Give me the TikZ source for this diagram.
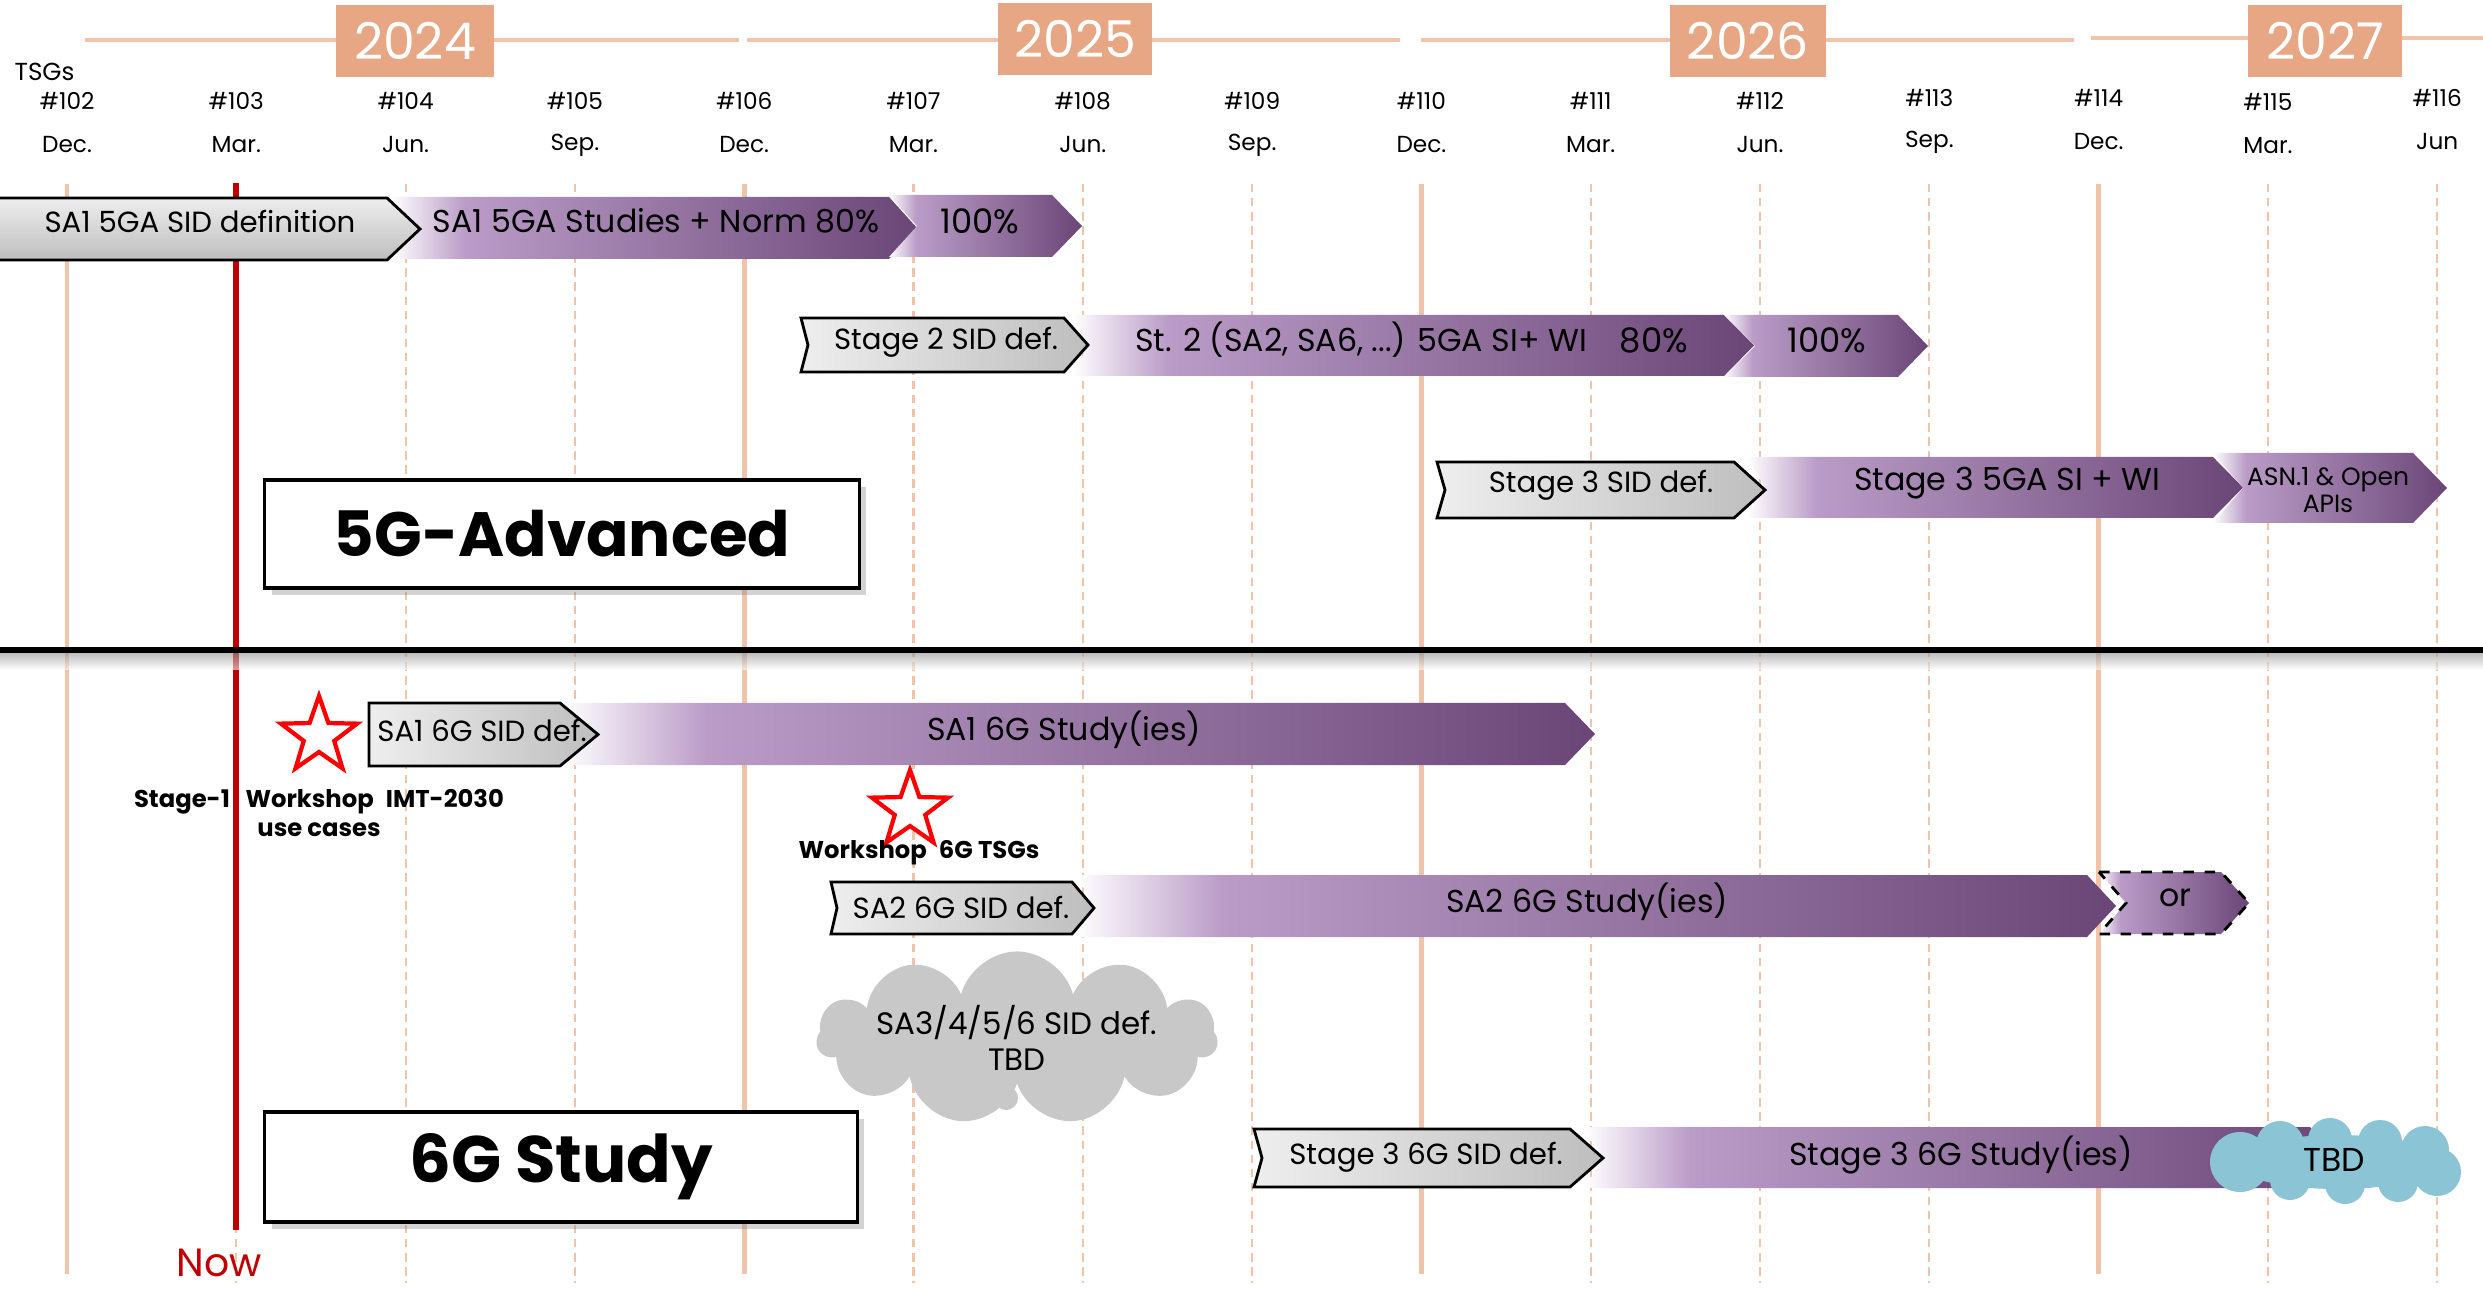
\documentclass[tikz,border=0pt]{standalone}
\usepackage{fontspec}
\setmainfont{Poppins}
\usetikzlibrary{shapes.geometric,shapes.symbols,shadows}

\definecolor{peach}{HTML}{E8A784}
\definecolor{peachline}{HTML}{EFC4AB}
\definecolor{nowred}{HTML}{C00000}
\definecolor{lilac}{HTML}{BA9CC7}
\definecolor{plum}{HTML}{6A4677}
\definecolor{greyA}{HTML}{EEEEEE}
\definecolor{greyB}{HTML}{BEBEBE}
\definecolor{cloudgrey}{HTML}{C8C8C8}
\definecolor{cloudblue}{HTML}{8BC5D5}

\pgfdeclarehorizontalshading{lilacfade}{100bp}{color(0bp)=(white); color(25bp)=(white); color(32bp)=(lilac); color(75bp)=(plum); color(100bp)=(plum)}

\tikzset{
  gridsolid/.style={peachline, line width=1.4pt},
  griddash/.style={peachline, line width=0.6pt, dash pattern=on 2.4pt off 1.6pt},
  yearbox/.style={fill=peach, text=white, inner sep=0pt, font=\fontsize{14.4}{17}\selectfont},
  tsglbl/.style={inner sep=0pt, font=\fontsize{6.6}{8}\selectfont},
  sidbox/.style={draw=black, line width=0.8pt, left color=greyA, right color=greyB},
  sidboxv/.style={draw=black, line width=0.8pt, top color=greyA, bottom color=greyB},
  studybar/.style={shading=lilacfade},
  bartxt/.style={inner sep=0pt, font=\fontsize{9}{10.8}\selectfont},
  pcttxt/.style={inner sep=0pt, font=\fontsize{9.6}{11.5}\selectfont},
  sidtxt/.style={inner sep=0pt, font=\fontsize{8.3}{10}\selectfont},
  wslbl/.style={inner sep=0pt, align=center, font=\bfseries\fontsize{6.9}{8.3}\selectfont},
  starmark/.style={star, star points=5, star point ratio=2.5, minimum size=0.8cm, inner sep=0pt, draw=red, line width=1.2pt, fill=white},
  titlebox/.style={draw, line width=0.9pt, fill=white, inner sep=0pt, drop shadow={shadow xshift=2pt, shadow yshift=-2pt, opacity=0.35}}
}

% chevron: [style]{x left}{x corner}{y top}{y bottom}{notch}{tip}
\newcommand{\chev}[7][]{%
  \path[#1] (#2,#4) -- (#3,#4) -- ({#3+#7},{(#4+#5)/2}) -- (#3,#5) -- (#2,#5) -- ({#2+#6},{(#4+#5)/2}) -- cycle;}

\begin{document}
\begin{tikzpicture}[x=0.01cm, y=-0.01cm, line join=miter]
\useasboundingbox (0,0) rectangle (2483,1289);

% years
\draw[peachline, line width=0.9pt] (85,40) -- (739,40) (747,40) -- (1400,40) (1421,40) -- (2074,40) (2091,38) -- (2483,38);
\node[yearbox, minimum width=1.58cm, minimum height=0.72cm] (y2024) at (415,41) {2024};
\node[yearbox, minimum width=1.54cm, minimum height=0.72cm] (y2025) at (1075,39) {2025};
\node[yearbox, minimum width=1.56cm, minimum height=0.72cm] (y2026) at (1748,41) {2026};
\node[yearbox, minimum width=1.54cm, minimum height=0.72cm] (y2027) at (2325,41) {2027};
\node[tsglbl, anchor=west, font=\fontsize{7}{8}\selectfont] (tsgs) at (14,72) {TSGs};

% meetings
\foreach \k/\n/\m/\dy in {0/102/Dec./0, 1/103/Mar./0, 2/104/Jun./0, 3/105/Sep./0, 4/106/Dec./0, 5/107/Mar./0, 6/108/Jun./0, 7/109/Sep./0, 8/110/Dec./0, 9/111/Mar./0, 10/112/Jun./0, 11/113/Sep./-3, 12/114/Dec./-3, 13/115/Mar./1, 14/116/Jun/-3}{
  \pgfmathsetmacro{\gx}{67+169.3*\k}
  \node[tsglbl] (num\n) at (\gx,101+\dy) {\#\n};
  \node[tsglbl] (mon\n) at (\gx,145+\dy) {\m};
}
\foreach \k in {0,4,8,12}
  \draw[gridsolid] ({67+169.3*\k},184) -- ({67+169.3*\k},1274);
\foreach \k in {1,2,3,5,6,7,9,10,11,13,14}
  \draw[griddash] ({67+169.3*\k},184) -- ({67+169.3*\k},1283);

% now
\draw[nowred, line width=1.8pt] (236,183) -- (236,1230);
\node[text=nowred, inner sep=0pt, font=\fontsize{11.2}{13}\selectfont] (now) at (219,1263) {Now};

% 5G-Advanced
\chev[studybar]{391}{889}{197}{259}{29}{28}
\chev[studybar]{889}{1052}{195}{257}{28}{30}
\chev[sidboxv]{-10}{387}{198}{260}{0}{33}
\node[sidtxt] (sa5gadef) at (200,221) {SA1 5GA SID definition};
\node[bartxt] (sa5gastudy) at (656,221) {SA1 5GA Studies + Norm 80\%};
\node[pcttxt] (sa5gafull) at (980,221) {100\%};

\chev[studybar]{1072}{1724}{315}{376}{16}{30}
\chev[studybar]{1724}{1898}{315}{377}{31}{30}
\chev[sidbox]{801}{1064}{318}{372}{7}{24}
\node[sidtxt] (stwodef) at (946,342) {Stage 2 SID def.};
\node[bartxt] (stwostudy) at (1361,340) {St. 2 (SA2, SA6, ...) 5GA SI+ WI};
\node[pcttxt] (stwoeighty) at (1654,340) {80\%};
\node[pcttxt] (stwofull) at (1827,340) {100\%};

\chev[studybar]{1747}{2213}{457}{518}{18}{30}
\chev[studybar]{2213}{2413}{453}{523}{30}{34}
\chev[sidbox]{1437}{1734}{462}{518}{8}{31}
\node[sidtxt] (sthreedef) at (1601,485) {Stage 3 SID def.};
\node[bartxt] (sthreestudy) at (2007,483) {Stage 3 5GA SI + WI};
\node[inner sep=0pt, align=center, font=\fontsize{7.1}{7.6}\selectfont] (asnapis) at (2328,490) {ASN.1 \& Open\\APIs};

\node[titlebox, minimum width=5.94cm, minimum height=1.08cm, font=\bfseries\fontsize{17.8}{21}\selectfont] (fivegadv) at (562,534) {5G-Advanced};

% divider
\shade[top color=black!45, bottom color=white, opacity=0.6] (0,652) rectangle (2483,670);
\draw[line width=1.5pt] (0,650) -- (2483,650);

% 6G
\node[starmark] (stageonestar) at (319,736) {};
\node[wslbl] (stageonelbl) at (319,813) {Stage-1\hspace{3pt} Workshop\hspace{2pt} IMT-2030\\use cases};
\node[starmark] (tsgstar) at (910,810) {};
\node[wslbl] (tsgwslbl) at (919,853) {Workshop\hspace{2pt} 6G TSGs};

\chev[studybar]{562}{1565}{703}{765}{36}{30}
\chev[sidbox]{369}{560}{703}{766}{0}{38}
\node[sidtxt] (saonedef) at (482,730) {SA1 6G SID def.};
\node[bartxt] (saonestudy) at (1064,730) {SA1 6G Study(ies)};

\chev[studybar]{1076}{2087}{875}{937}{18}{29}
\chev[studybar, draw=black, line width=0.8pt, dashed]{2099}{2221}{872}{934}{27}{28}
\chev[sidbox]{831}{1072}{882}{934}{6}{22}
\node[sidtxt] (satwodef) at (961,907) {SA2 6G SID def.};
\node[bartxt] (satwostudy) at (1587,902) {SA2 6G Study(ies)};
\node[bartxt] (ornode) at (2175,898) {or};

\fill[cloudgrey] (1006,1098) circle (12);
\node[cloud, cloud puffs=11, cloud ignores aspect, fill=cloudgrey, minimum width=3.3cm, minimum height=1.5cm, inner sep=0pt, align=center, font=\fontsize{8.8}{10}\selectfont] (othersid) at (1017,1038) {SA3/4/5/6 SID def.\\TBD};

\node[titlebox, minimum width=5.92cm, minimum height=1.10cm, font=\bfseries\fontsize{18.7}{22}\selectfont] (sixgstudy) at (561,1167) {6G Study};

\chev[studybar]{1585}{2310}{1127}{1188}{18}{28}
\chev[sidbox]{1254}{1570}{1129}{1187}{8}{33}
\node[sidtxt] (stthreesixdef) at (1426,1157) {Stage 3 6G SID def.};
\node[bartxt] (stthreesixstudy) at (1961,1155) {Stage 3 6G Study(ies)};
\fill[cloudblue] (2338,1162) ellipse (105 and 27) (2240,1162) circle (30) (2280,1145) circle (24) (2330,1140) circle (22) (2380,1142) circle (22) (2425,1150) circle (24) (2437,1172) circle (24) (2290,1180) circle (20) (2345,1184) circle (20) (2398,1182) circle (20) (2336,1196) circle (5);
\node[inner sep=0pt, font=\fontsize{9.4}{11}\selectfont] (tbdcloud) at (2334,1160) {TBD};
\end{tikzpicture}
\end{document}
